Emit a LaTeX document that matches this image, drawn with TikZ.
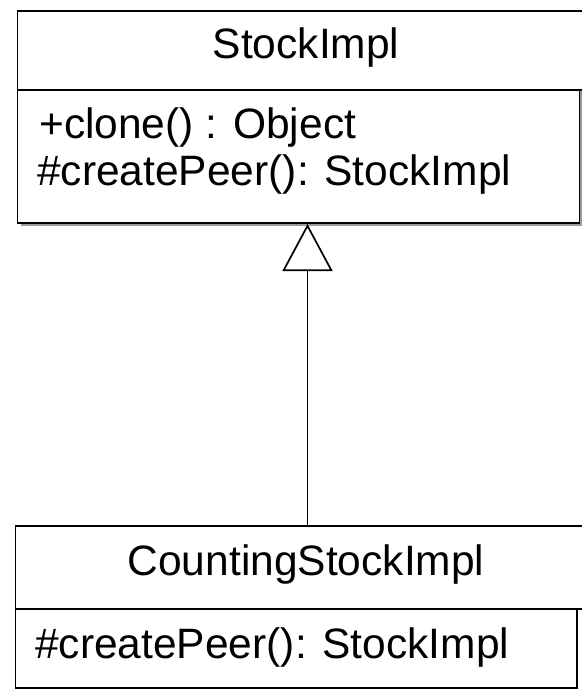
\documentclass[tikz,border=0pt]{standalone}
\usepackage{fontspec}
\setmainfont{Liberation Sans}
\usetikzlibrary{arrows.meta}
\begin{document}
\begin{tikzpicture}[x=1pt,y=-1pt,
  box/.style={draw=black,line width=1.7pt,inner sep=0pt,outer sep=0pt,anchor=north west,fill=white},
  shadowbox/.style={fill=black!40,draw=none,inner sep=0pt,outer sep=0pt,anchor=north west},
  lbl/.style={inner sep=0pt,font=\fontsize{42.5}{47}\selectfont},
  inherit/.style={line width=1.5pt,-{Triangle[open,length=47pt,width=50pt,line width=1.7pt]}}]
\useasboundingbox (0,0) rectangle (581,690);
% top class
\node[shadowbox,minimum width=562pt,minimum height=212pt] (supsh) at (20.5,14) {};
\node[box,minimum width=568pt,minimum height=79pt] (suphead) at (17.5,11) {};
\node[box,minimum width=562pt,minimum height=133pt] (supbody) at (17.5,90) {};
\node[lbl,anchor=base] (supname) at (306,59) {StockImpl};
\node[lbl,anchor=base west] (supop1) at (39,138) {+clone() : Object};
\node[lbl,anchor=base west] (supop2) at (37,185) {\#createPeer(): StockImpl};
% bottom class
\node[box,minimum width=570pt,minimum height=83pt] (subhead) at (15.5,526) {};
\node[box,minimum width=561.5pt,minimum height=79pt] (subbody) at (15.5,609) {};
\node[lbl,anchor=base] (subname) at (306,575) {CountingStockImpl};
\node[lbl,anchor=base west] (subop1) at (35,658) {\#createPeer(): StockImpl};
% generalization
\coordinate (apex) at (307.5,224);
\coordinate (foot) at (307.5,526);
\draw[inherit] (foot) -- (apex);
\end{tikzpicture}
\end{document}
